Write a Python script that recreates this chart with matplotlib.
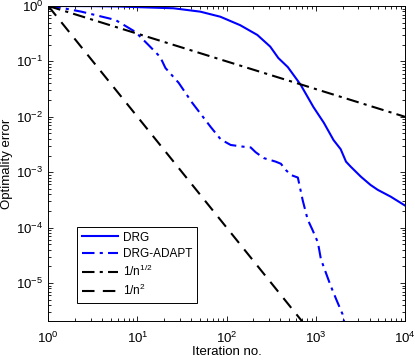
# Optimality error vs iteration, DRG vs DRG-ADAPT with rate guides
import matplotlib
matplotlib.use('Agg')
import matplotlib.pyplot as plt

# DRG
drg_n = [1, 3, 6, 10.8, 25.3, 50.7, 85, 142, 221, 308, 380, 485, 675, 940,
         1230, 1580, 1900, 2180, 2460, 3200, 4100, 4950, 6950, 10000]
drg_err = [1.0, 0.995, 0.98, 0.95, 0.91, 0.79, 0.64, 0.45, 0.30, 0.185,
           0.115, 0.079, 0.038, 0.015, 0.0078, 0.0038, 0.0026, 0.00155,
           0.00126, 0.00083, 0.00059, 0.00048, 0.00036, 0.00025]

# DRG-ADAPT
adapt_n = [1, 1.2, 2.35, 5.66, 9.5, 13.2, 18, 20.6, 29, 41, 66, 86, 111,
           150, 186, 211, 260, 355, 406, 460, 525, 629, 713, 810, 920, 1055,
           1140, 1370, 1476, 1700, 2000, 2150]
adapt_err = [1.0, 0.97, 0.79, 0.56, 0.34, 0.20, 0.12, 0.076, 0.041, 0.018,
             0.0066, 0.0039, 0.0031, 0.0029, 0.0028, 0.0023, 0.0018,
             0.00155, 0.00142, 0.0011, 0.00089, 0.0008, 0.00031, 0.00014,
             9e-5, 5.4e-5, 2.7e-5, 1.2e-5, 8.7e-6, 5e-6, 2.7e-6, 1.5e-6]

# rate guides (straight in log-log: end points)
ref_n = [1, 1e4]
sqrt_err = [1, 1e-2]
sq_err = [1, 1e-8]

plt.rcParams['font.family'] = ['Liberation Sans', 'DejaVu Sans']
plt.rcParams['mathtext.fontset'] = 'custom'
plt.rcParams['mathtext.rm'] = 'Liberation Sans'
plt.rcParams['mathtext.it'] = 'Liberation Sans'

fig = plt.figure(figsize=(4.15, 3.63), dpi=100)
ax = fig.add_axes([0.1163, 0.1157, 0.8596, 0.8678])

dashdot = (0, (6, 2.5, 1.5, 2.5))
ax.loglog(drg_n, drg_err, color='b', lw=1.5, label='DRG')
ax.loglog(adapt_n, adapt_err, color='b', lw=1.5, ls=dashdot,
          label='DRG-ADAPT')
ax.loglog(ref_n, sqrt_err, color='k', lw=1.5, ls=dashdot,
          label='1/n$^{1/2}$')
ax.loglog(ref_n, sq_err, color='k', lw=1.5, ls=(0, (6, 4)),
          label='1/n$^{2}$')

ax.set_xlim(1, 1e4)
ax.set_ylim(2.06e-6, 1)
ax.set_xlabel('Iteration no.', fontsize=9.5, labelpad=0)
ax.set_ylabel('Optimality error', fontsize=9.5, labelpad=2)
ax.tick_params(which='both', direction='in', top=True, right=True,
               labelsize=9.5, width=0.6)
ax.tick_params(axis='x', which='major', pad=7)
ax.tick_params(which='major', length=3.5)
ax.tick_params(which='minor', length=2)
for s in ax.spines.values():
    s.set_linewidth(0.7)

leg = ax.legend(loc='lower left', bbox_to_anchor=(0.081, 0.057),
                borderaxespad=0, fontsize=8.5, fancybox=False,
                edgecolor='k', framealpha=1, handlelength=3.1,
                handletextpad=0.4, borderpad=0.4, labelspacing=0.35)
leg.get_frame().set_linewidth(0.7)

fig.savefig('out.png', dpi=100)
